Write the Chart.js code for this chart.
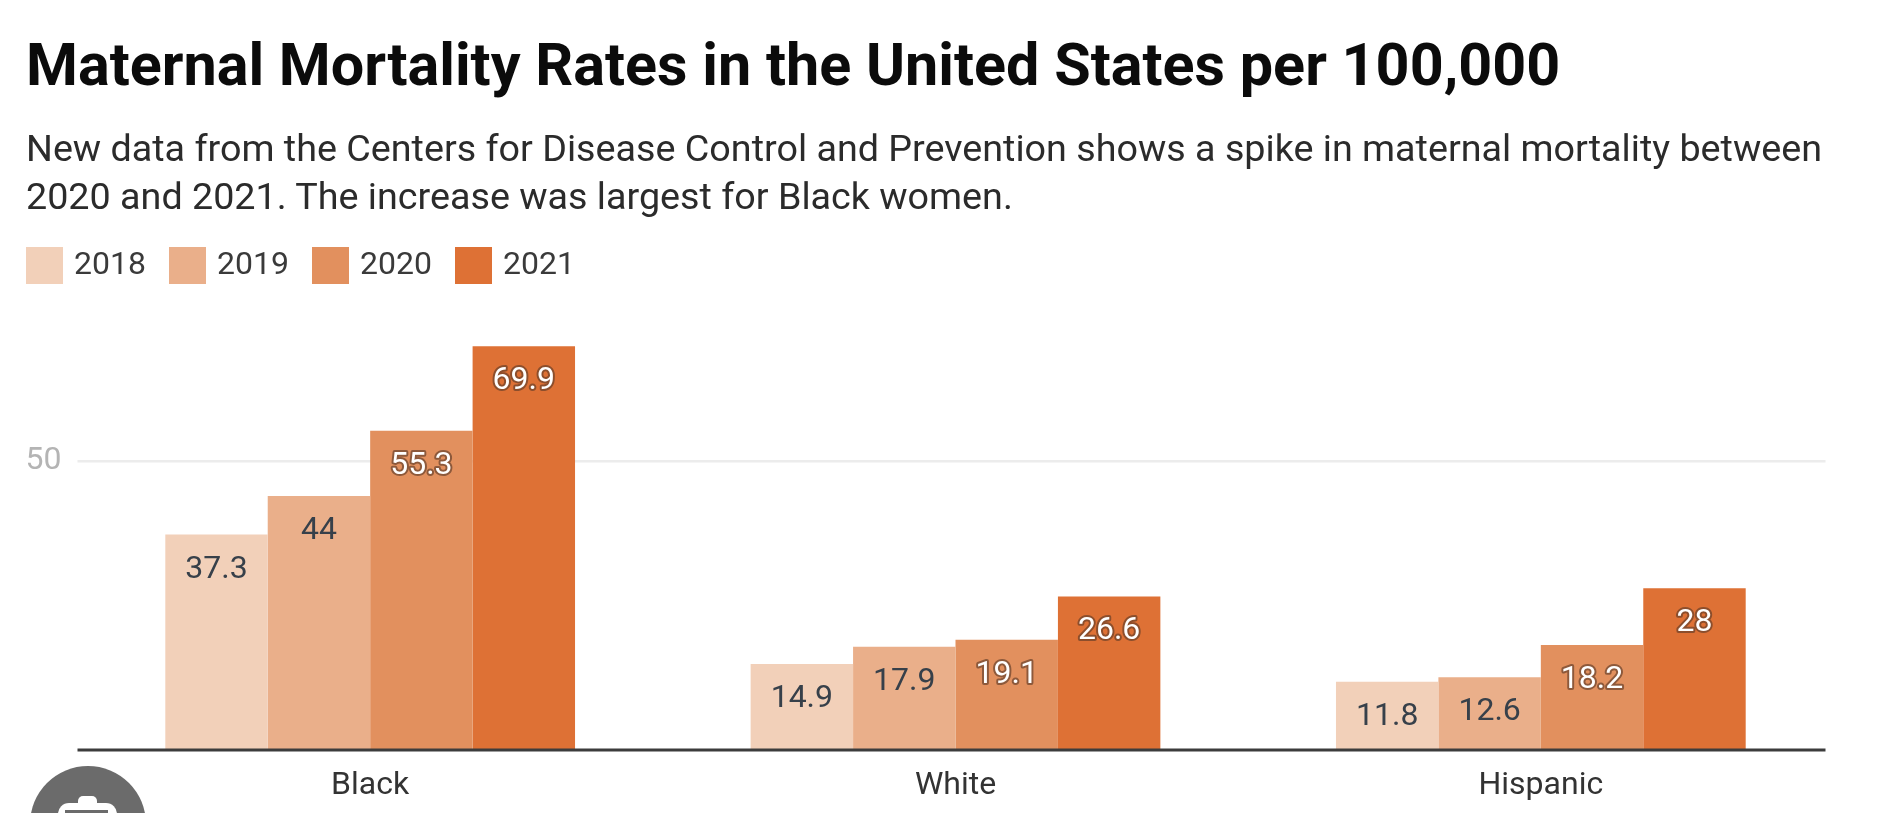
<!DOCTYPE html>
<html lang="en">
<head>
<meta charset="UTF-8" />
<title>Maternal Mortality Rates</title>
<script src="https://cdn.jsdelivr.net/npm/chart.js@4"></script>
<style>
    html, body { margin: 0; padding: 0; background: #fff; overflow: hidden; }
    body { width: 1894px; height: 818px; position: relative; font-family: Roboto, sans-serif; filter: blur(0.6px); }
    #myChart { position: absolute; left: 0; top: 0; display: block; }
    h1 { position: absolute; left: 26px; top: 32px; margin: 0; font-size: 59.3px; line-height: 66px; font-weight: 700; color: #0b0b0b; white-space: nowrap; }
    p { position: absolute; left: 26px; top: 124px; margin: 0; font-size: 37.7px; line-height: 48.3px; color: #2b2b2b; white-space: nowrap; }
    #legend { position: absolute; left: 25.5px; top: 247px; display: flex; }
    .item { width: 143px; height: 37px; display: flex; align-items: center; font-size: 32px; color: #3a3a3a; }
    .swatch { width: 37.5px; height: 37px; margin-right: 11px; }
    .year { position: relative; top: -2.5px; }
    /* the round grey button that is cut off in the bottom left corner */
    #badge { position: absolute; left: 30px; top: 766px; width: 116px; height: 47px; overflow: hidden; }
    #badge div { position: absolute; }
    #circle { left: 0; top: 0; width: 116px; height: 116px; border-radius: 50%; background: #6b6b6b; }
    #hole { left: 28px; top: 37px; width: 59px; height: 20px; border-radius: 11px 11px 0 0; background: #fff; }
    #knob { left: 48px; top: 30px; width: 19px; height: 10px; border-radius: 5px 5px 0 0; background: #fff; }
    #slot { left: 35px; top: 44px; width: 43px; height: 3px; background: #6b6b6b; }
</style>
</head>
<body>
    <canvas id="myChart" width="1894" height="818"></canvas>
    <h1>Maternal Mortality Rates in the United States per 100,000</h1>
    <p>New data from the Centers for Disease Control and Prevention shows a spike in maternal mortality between<br>2020 and 2021. The increase was largest for Black women.</p>
    <div id="legend"></div>
    <div id="badge"><div id="circle"></div><div id="hole"></div><div id="knob"></div><div id="slot"></div></div>

    <script>
        const categories = ['Black', 'White', 'Hispanic'];
        const years = ['2018', '2019', '2020', '2021'];
        const values2018 = [37.3, 14.9, 11.8];
        const values2019 = [44, 17.9, 12.6];
        const values2020 = [55.3, 19.1, 18.2];
        const values2021 = [69.9, 26.6, 28];
        const yTicks = [50];

        const colors = ['#f2d0b9', '#eaaf8a', '#e2905e', '#de7135'];
        const labelColors = ['#37404a', '#37404a', '#ffffff', '#ffffff'];
        const FONT = 'Roboto, sans-serif';

        years.forEach((year, i) => {
            const item = document.createElement('div');
            item.className = 'item';
            item.innerHTML = '<span class="swatch" style="background:' + colors[i] + '"></span><span class="year">' + year + '</span>';
            document.getElementById('legend').appendChild(item);
        });

        // grid line and axis line stop a little before the end of the last category
        const axisLines = {
            id: 'axisLines',
            beforeDatasetsDraw(chart) {
                const { ctx, chartArea, scales } = chart;
                ctx.save();
                ctx.strokeStyle = '#ececec';
                ctx.lineWidth = 2.5;
                yTicks.forEach(t => {
                    const y = scales.y.getPixelForValue(t);
                    ctx.beginPath();
                    ctx.moveTo(chartArea.left, y);
                    ctx.lineTo(chartArea.right - 8, y);
                    ctx.stroke();
                });
                ctx.restore();
            },
            afterDatasetsDraw(chart) {
                const { ctx, chartArea, scales } = chart;
                const y = scales.y.getPixelForValue(0);
                ctx.save();
                ctx.strokeStyle = '#3c3c3c';
                ctx.lineWidth = 3;
                ctx.beginPath();
                ctx.moveTo(chartArea.left, y);
                ctx.lineTo(chartArea.right - 8, y);
                ctx.stroke();
                ctx.restore();
            }
        };

        // value labels inside the top of each bar
        const barLabels = {
            id: 'barLabels',
            afterDatasetsDraw(chart) {
                const { ctx } = chart;
                ctx.save();
                ctx.font = '32px ' + FONT;
                ctx.textAlign = 'center';
                ctx.textBaseline = 'middle';
                chart.data.datasets.forEach((ds, i) => {
                    chart.getDatasetMeta(i).data.forEach((bar, j) => {
                        const y = bar.y + 35;
                        if (i > 1) {
                            ctx.strokeStyle = 'rgba(95,60,40,0.65)';
                            ctx.lineWidth = 4;
                            ctx.lineJoin = 'round';
                            ctx.strokeText(ds.data[j], bar.x, y);
                        }
                        ctx.fillStyle = labelColors[i];
                        ctx.fillText(ds.data[j], bar.x, y);
                    });
                });
                ctx.restore();
            }
        };

        const chart = new Chart(document.getElementById('myChart'), {
            type: 'bar',
            data: {
                labels: categories,
                datasets: [
                    { label: years[0], data: values2018, backgroundColor: colors[0] },
                    { label: years[1], data: values2019, backgroundColor: colors[1] },
                    { label: years[2], data: values2020, backgroundColor: colors[2] },
                    { label: years[3], data: values2021, backgroundColor: colors[3] }
                ]
            },
            options: {
                responsive: false,
                animation: false,
                categoryPercentage: 0.7,
                barPercentage: 1,
                layout: { padding: { left: 0, right: 60.5, top: 288, bottom: 0 } },
                plugins: {
                    tooltip: { enabled: false },
                    title: { display: false },
                    legend: { display: false }
                },
                scales: {
                    x: {
                        grid: { display: false, drawTicks: false },
                        border: { display: false },
                        ticks: { color: '#333333', padding: 17, font: { family: FONT, size: 32 } },
                        afterFit(scale) { scale.height = 68; }
                    },
                    y: {
                        min: 0,
                        max: 80,
                        grid: { display: false, drawTicks: false },
                        border: { display: false },
                        ticks: { color: '#b4b4b4', padding: 16, font: { family: FONT, size: 32 } },
                        afterBuildTicks(scale) { scale.ticks = yTicks.map(v => ({ value: v })); },
                        afterFit(scale) { scale.width = 77.5; }
                    }
                }
            },
            plugins: [axisLines, barLabels]
        });
    </script>
</body>
</html>
